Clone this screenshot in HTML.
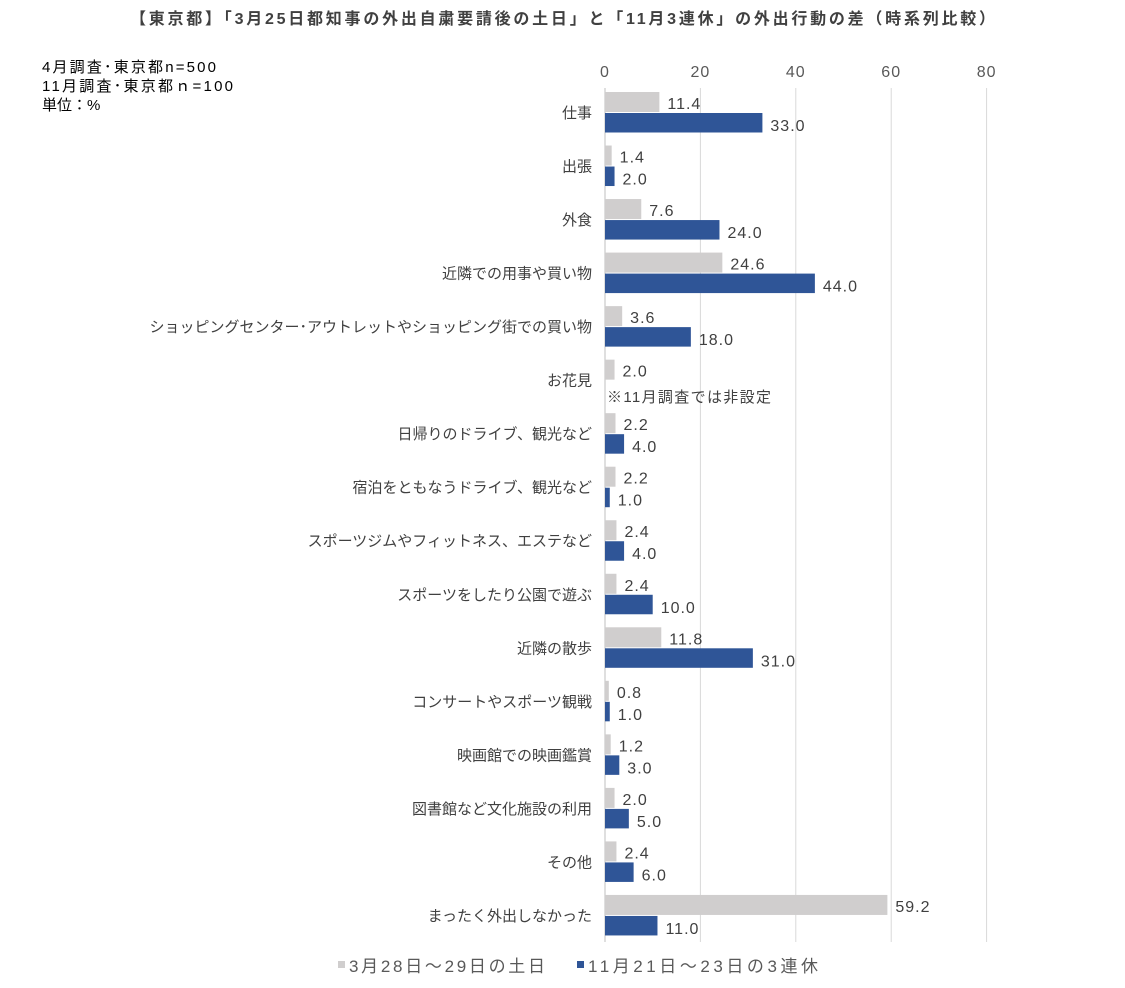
<!DOCTYPE html>
<html><head><meta charset="utf-8">
<style>
body{margin:0;background:#fff;}
svg{display:block;font-family:"Liberation Sans","Noto Sans CJK JP",sans-serif;}
</style></head>
<body>
<svg id="chart" width="1125" height="988" viewBox="0 0 1125 988">
<text x="130" y="24" font-size="16" font-weight="bold" fill="#404040" textLength="865" lengthAdjust="spacing">【東京都】「3月25日都知事の外出自粛要請後の土日」と「11月3連休」の外出行動の差（時系列比較）</text>
<g font-size="15" fill="#000">
<text x="42" y="72" textLength="174" lengthAdjust="spacing">4月調査･東京都n=500</text>
<text x="42" y="91" textLength="191" lengthAdjust="spacing">11月調査･東京都ｎ=100</text>
<text x="42" y="110">単位：%</text>
</g>
<g id="grid"></g><g id="bars"></g><g id="labels"></g>
<text x="607" y="402" font-size="15" fill="#404040" textLength="164" lengthAdjust="spacing">※11月調査では非設定</text>
<g font-size="17" fill="#595959">
<rect x="338" y="961" width="7" height="7" fill="#d0cece"/>
<text x="349" y="972" textLength="196" lengthAdjust="spacing">3月28日～29日の土日</text>
<rect x="577" y="961" width="7" height="7" fill="#2f5597"/>
<text x="588" y="972" textLength="230" lengthAdjust="spacing">11月21日～23日の3連休</text>
</g>
</svg>
<script>
const categories=["仕事","出張","外食","近隣での用事や買い物","ショッピングセンター･アウトレットやショッピング街での買い物","お花見","日帰りのドライブ、観光など","宿泊をともなうドライブ、観光など","スポーツジムやフィットネス、エステなど","スポーツをしたり公園で遊ぶ","近隣の散歩","コンサートやスポーツ観戦","映画館での映画鑑賞","図書館など文化施設の利用","その他","まったく外出しなかった"];
const april=[11.4,1.4,7.6,24.6,3.6,2.0,2.2,2.2,2.4,2.4,11.8,0.8,1.2,2.0,2.4,59.2];
const november=[33.0,2.0,24.0,44.0,18.0,null,4.0,1.0,4.0,10.0,31.0,1.0,3.0,5.0,6.0,11.0];
const ticks=[0,20,40,60,80];
const NS="http://www.w3.org/2000/svg";
const x0=605,pxPer=4.77,top0=88,band=53.53,bottom=942;
const x=v=>x0+v*pxPer;
const bandTop=i=>top0+i*band;
function mk(tag,attrs,parent,txt){const e=document.createElementNS(NS,tag);for(const k in attrs)e.setAttribute(k,attrs[k]);if(txt!=null)e.textContent=txt;parent.appendChild(e);return e;}
const grid=document.getElementById('grid'),bars=document.getElementById('bars'),labels=document.getElementById('labels');
ticks.forEach(t=>{
  const l=mk('line',{x1:x(t),x2:x(t),y1:top0,y2:bottom,stroke:t===0?'#bfbfbf':'#d9d9d9','stroke-width':1},grid);
  
  
  const tx=mk('text',{x:x(t),y:77,'text-anchor':'middle','font-size':16,fill:'#595959','letter-spacing':1},grid,String(t));
  
  
});
categories.forEach((c,i)=>{
  const t=bandTop(i);
  const cl=mk('text',{x:592,y:t+30,'text-anchor':'end','font-size':15,fill:'#404040'},labels,c);
  
  
  const a=april[i];
  const r=mk('rect',{x:x0,y:t+4,width:x(a)-x0,height:20,fill:'#d0cece'},bars);
  
  
  const at=mk('text',{x:x(a)+8,y:t+21,'font-size':16,fill:'#404040','letter-spacing':1},labels,a.toFixed(1));
  
  
  const n=november[i];
  if(n!=null){
    const b=mk('rect',{x:x0,y:t+25,width:x(n)-x0,height:19.5,fill:'#2f5597'},bars);
    
    
    const bt=mk('text',{x:x(n)+8,y:t+43,'font-size':16,fill:'#404040','letter-spacing':1},labels,n.toFixed(1));
    
    
  }
});
</script>
</body></html>
